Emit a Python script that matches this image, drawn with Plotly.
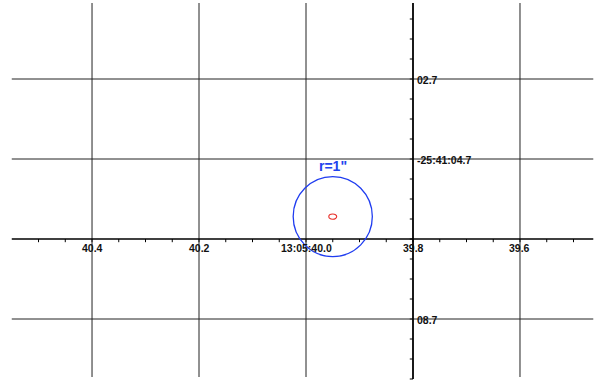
import numpy as np
import plotly.graph_objects as go

# Sky grid: right ascension seconds past 13:05, declination arcsec past -25:41
ra_ticks = [40.4, 40.2, 40.0, 39.8, 39.6]
ra_labels = ["40.4", "40.2", "13:05:40.0", "39.8", "39.6"]
dec_ticks = [2.7, 4.7, 6.7, 8.7]
dec_labels = ["02.7", "-25:41:04.7", "", "08.7"]

# Axis crossing point
ra_axis = 39.8
dec_axis = 6.7

# Source position and error ellipse (arcsec), plus search radius (arcsec)
src_ra = 39.950
src_dec = 6.14
search_radius = 1.0
ell_a = 0.10
ell_b = 0.065
radius_label = 'r=1"'

# Extents of the grid
ra_span = (40.55, 39.463)
dec_span = (0.8, 10.15)
dec_axis_span = (0.8, 10.2)

dec_deg = -(25 + 41 / 60 + src_dec / 3600)
sec_per_arcsec = 1.0 / 15.0 / np.cos(np.radians(dec_deg))

fig = go.Figure()
fig.add_trace(go.Scatter(x=[src_ra], y=[src_dec], mode="markers",
                         marker=dict(size=1, opacity=0), hoverinfo="skip",
                         showlegend=False))

grid_col = "#222222"
# Grid lines
for r in ra_ticks:
    if r == ra_axis:
        continue
    fig.add_shape(type="line", xref="x", yref="y", x0=r, x1=r,
                  y0=dec_span[0], y1=dec_span[1],
                  line=dict(color=grid_col, width=1))
for d in dec_ticks:
    if d == dec_axis:
        continue
    fig.add_shape(type="line", xref="x", yref="y", x0=ra_span[0], x1=ra_span[1],
                  y0=d, y1=d, line=dict(color=grid_col, width=1))

# Axis lines
fig.add_shape(type="line", xref="x", yref="y", x0=ra_span[0], x1=ra_span[1],
              y0=dec_axis, y1=dec_axis, line=dict(color="black", width=1.6))
fig.add_shape(type="line", xref="x", yref="y", x0=ra_axis, x1=ra_axis,
              y0=dec_axis_span[0], y1=dec_axis_span[1],
              line=dict(color="black", width=1.8))

# Minor ticks
tx, ty = [], []
for r in np.arange(40.50, 39.49, -0.05):
    tx += [r, r, None]
    ty += [dec_axis, dec_axis + 0.08, None]
for d in np.arange(1.2, 10.21, 0.5):
    tx += [ra_axis, ra_axis + 0.006, None]
    ty += [d, d, None]
fig.add_trace(go.Scatter(x=tx, y=ty, mode="lines", line=dict(color="black", width=1),
                         hoverinfo="skip", showlegend=False))

# Search circle and error ellipse
rx = search_radius * sec_per_arcsec
fig.add_shape(type="circle", xref="x", yref="y",
              x0=src_ra - rx, x1=src_ra + rx,
              y0=src_dec - search_radius, y1=src_dec + search_radius,
              line=dict(color="#1f3cf0", width=1.3))
ex = ell_a * sec_per_arcsec
fig.add_shape(type="circle", xref="x", yref="y",
              x0=src_ra - ex, x1=src_ra + ex,
              y0=src_dec - ell_b, y1=src_dec + ell_b,
              line=dict(color="#e8302a", width=1.1))

fig.add_annotation(x=src_ra, y=src_dec - search_radius, text=radius_label,
                   showarrow=False, yanchor="bottom", yshift=1,
                   font=dict(family="Liberation Sans", size=14, color="#2244ee",
                             weight="bold"))

lab_font = dict(family="Liberation Sans", size=10.5, color="#111111", weight="bold")
for r, lab in zip(ra_ticks, ra_labels):
    fig.add_annotation(x=r, y=dec_axis, text=lab, showarrow=False,
                       xanchor="center", yanchor="top", yshift=-1, font=lab_font)
for d, lab in zip(dec_ticks, dec_labels):
    if not lab:
        continue
    fig.add_annotation(x=ra_axis, y=d, text=lab, showarrow=False,
                       xanchor="left", yanchor="middle", xshift=2, yshift=-1,
                       font=lab_font)

fig.update_layout(
    width=605, height=383, margin=dict(l=0, r=0, t=0, b=0),
    paper_bgcolor="white", plot_bgcolor="white",
    xaxis=dict(range=[40.5720, 39.4411], visible=False, fixedrange=True),
    yaxis=dict(range=[10.3, 0.725], visible=False, fixedrange=True),
    showlegend=False,
)

fig.write_html("out.html")
